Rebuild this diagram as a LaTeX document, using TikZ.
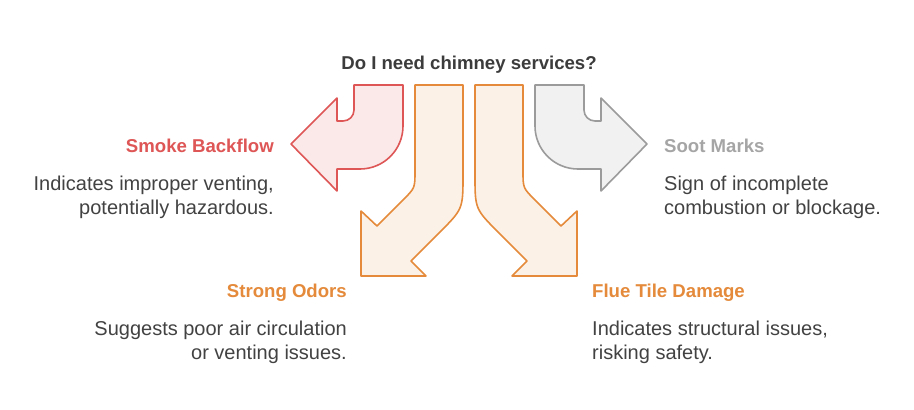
\documentclass[tikz,border=0pt]{standalone}
\usepackage{fontspec}
\setmainfont{Liberation Sans}
\usetikzlibrary{positioning}
\usepackage{xcolor}
\definecolor{smokecolor}{RGB}{222,86,86}
\definecolor{odorcolor}{RGB}{228,138,58}
\definecolor{sootcolor}{RGB}{155,155,155}
\definecolor{bodycolor}{RGB}{66,66,66}
\definecolor{titlecolor}{RGB}{60,60,60}

\begin{document}
\begin{tikzpicture}[
    x=1pt, y=-1pt,
    % Arrow shape styles
    smokeshape/.style={draw=smokecolor, fill=smokecolor!13, line width=1.6pt, line join=round},
    odorshape/.style={draw=odorcolor, fill=odorcolor!12, line width=1.6pt, line join=round},
    sootshape/.style={draw=sootcolor, fill=sootcolor!14, line width=1.6pt, line join=round},
    % Text styles
    heading/.style={font=\fontsize{18.6}{22}\selectfont\bfseries, inner sep=0pt},
    body/.style={font=\fontsize{20}{24}\selectfont, text=bodycolor, inner sep=0pt},
]

% Canvas
\fill[white] (0,0) rectangle (914,410);
\useasboundingbox (0,0) rectangle (914,410);

% Title
\node (title) [heading, text=titlecolor, anchor=base] at (469,69) {Do I need chimney services?};

% Smoke backflow arrow (curls left)
\draw [smokeshape] (403,85) -- (354,85) -- (354,110) arc (0:90:11) -- (337,121) -- (337,98)
    -- (291,144) -- (337,191) -- (337,169) -- (360,169) arc (90:0:43) -- cycle;

% Soot marks arrow (curls right)
\draw [sootshape] (535,85) -- (584,85) -- (584,110) arc (180:90:11) -- (601,121) -- (601,98)
    -- (647,144) -- (601,191) -- (601,169) -- (578,169) arc (90:180:43) -- cycle;

% Strong odors arrow (down left)
\draw [odorshape] (415,85) -- (463,85) -- (463,175) .. controls (463,209) .. (439,233)
    -- (411,261) -- (426,276) -- (361,276) -- (361,211) -- (377,226) -- (403,200)
    .. controls (415,188) .. (415,171) -- cycle;

% Flue tile damage arrow (down right)
\draw [odorshape] (523,85) -- (475,85) -- (475,175) .. controls (475,209) .. (499,233)
    -- (527,261) -- (512,276) -- (577,276) -- (577,211) -- (561,226) -- (535,200)
    .. controls (523,188) .. (523,171) -- cycle;

% Labels - left side
\node (smoke) [heading, text=smokecolor, anchor=base east] at (274,152) {Smoke Backflow};
\node (smoketext) [body, align=right, below left=23.5pt and 0pt of smoke.south east]
    {Indicates improper venting,\\potentially hazardous.};

\node (odors) [heading, text=odorcolor, anchor=base east] at (347,297) {Strong Odors};
\node (odorstext) [body, align=right, below left=19.5pt and 0pt of odors.south east]
    {Suggests poor air circulation\\or venting issues.};

% Labels - right side
\node (soot) [heading, text=sootcolor!90!white, anchor=base west] at (664,152) {Soot Marks};
\node (soottext) [body, align=left, below right=23.5pt and 0pt of soot.south west]
    {Sign of incomplete\\combustion or blockage.};

\node (damage) [heading, text=odorcolor, anchor=base west] at (592,297) {Flue Tile Damage};
\node (damagetext) [body, align=left, below right=19.5pt and 0pt of damage.south west]
    {Indicates structural issues,\\risking safety.};

\end{tikzpicture}
\end{document}
